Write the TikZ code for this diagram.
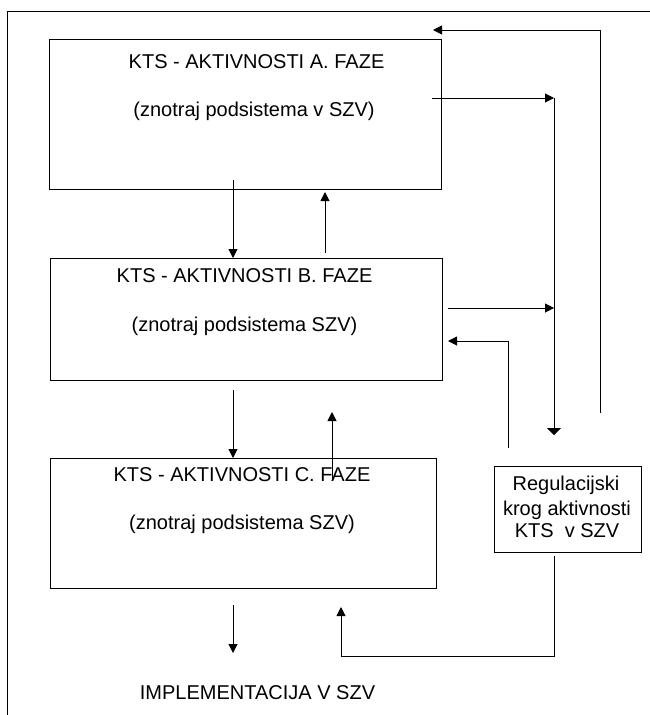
\documentclass[tikz,border=0pt]{standalone}
\usepackage{fontspec}
\setmainfont{Liberation Sans}
\usetikzlibrary{arrows.meta}
\begin{document}
\begin{tikzpicture}[x=1pt,y=-1pt,
  box/.style={draw=black,line width=1pt,inner sep=0pt,outer sep=0pt},
  lbl/.style={anchor=base,inner sep=0pt,font=\fontsize{20}{24}\selectfont},
  conn/.style={draw=black,line width=1pt},
  arr/.style={conn,-{Triangle[length=9pt,width=9pt]}},
  flatarr/.style={conn,-{Triangle[length=7pt,width=14pt]}}]
\useasboundingbox (0,0) rectangle (650,715);
\fill[white] (0,0) rectangle (650,715);
% outer frame (only top and left edges are visible)
\draw[conn] (7,715) -- (7,11) -- (650,11);
% boxes
\node[box,minimum width=392pt,minimum height=150pt] (A) at (245,114) {};
\node[box,minimum width=392pt,minimum height=122pt] (B) at (246,319) {};
\node[box,minimum width=386pt,minimum height=130pt] (C) at (243,523) {};
\node[box,minimum width=147pt,minimum height=86pt] (R) at (567.5,509) {};
% labels
\node[lbl] (At) at (256.5,68) {KTS - AKTIVNOSTI A. FAZE};
\node[lbl] (As) at (254,116) {(znotraj podsistema v SZV)};
\node[lbl] (Bt) at (244.5,282) {KTS - AKTIVNOSTI B. FAZE};
\node[lbl] (Bs) at (244.5,331) {(znotraj podsistema SZV)};
\node[lbl] (Ct) at (242,481) {KTS - AKTIVNOSTI C. FAZE};
\node[lbl] (Cs) at (242,529) {(znotraj podsistema SZV)};
\node[lbl] (Impl) at (257.5,699) {IMPLEMENTACIJA V SZV};
\node[lbl] (R1) at (566,490) {Regulacijski};
\node[lbl] (R2) at (567,515) {krog aktivnosti};
\node[lbl] (R3) at (567,537) {KTS\ \ v SZV};
% connector points
\coordinate (ab1) at (233,180);
\coordinate (ba1) at (325,253);
\coordinate (ba2) at (325,192);
\coordinate (ar1) at (432,98);
\coordinate (v1) at (554,98);
\coordinate (v2) at (554,435);
\coordinate (br1) at (448,308);
\coordinate (br2) at (554,308);
\coordinate (fb1) at (508,448);
\coordinate (fb2) at (508,341);
\coordinate (fb3) at (448,341);
\coordinate (tp1) at (600,413);
\coordinate (tp2) at (600,30);
\coordinate (tp3) at (433,30);
\coordinate (bc1) at (233,390);
\coordinate (cb1) at (332,480);
\coordinate (cb2) at (332,412);
\coordinate (ci1) at (233,605);
\coordinate (ci2) at (233,653);
\coordinate (rc1) at (554,556);
\coordinate (rc2) at (554,656);
\coordinate (rc3) at (341,656);
\coordinate (rc4) at (341,607);
% connectors
\draw[arr] (ab1) -- (ab1 |- B.north);
\draw[arr] (ba1) -- (ba2);
\draw[arr] (ar1) -- (v1);
\draw[flatarr] (v1) -- (v2);
\draw[arr] (br1) -- (br2);
\draw[arr] (fb1) -- (fb2) -- (fb3);
\draw[arr] (tp1) -- (tp2) -- (tp3);
\draw[arr] (bc1) -- (bc1 |- C.north);
\draw[arr] (cb1) -- (cb2);
\draw[arr] (ci1) -- (ci2);
\draw[arr] (rc1) -- (rc2) -- (rc3) -- (rc4);
\end{tikzpicture}
\end{document}
